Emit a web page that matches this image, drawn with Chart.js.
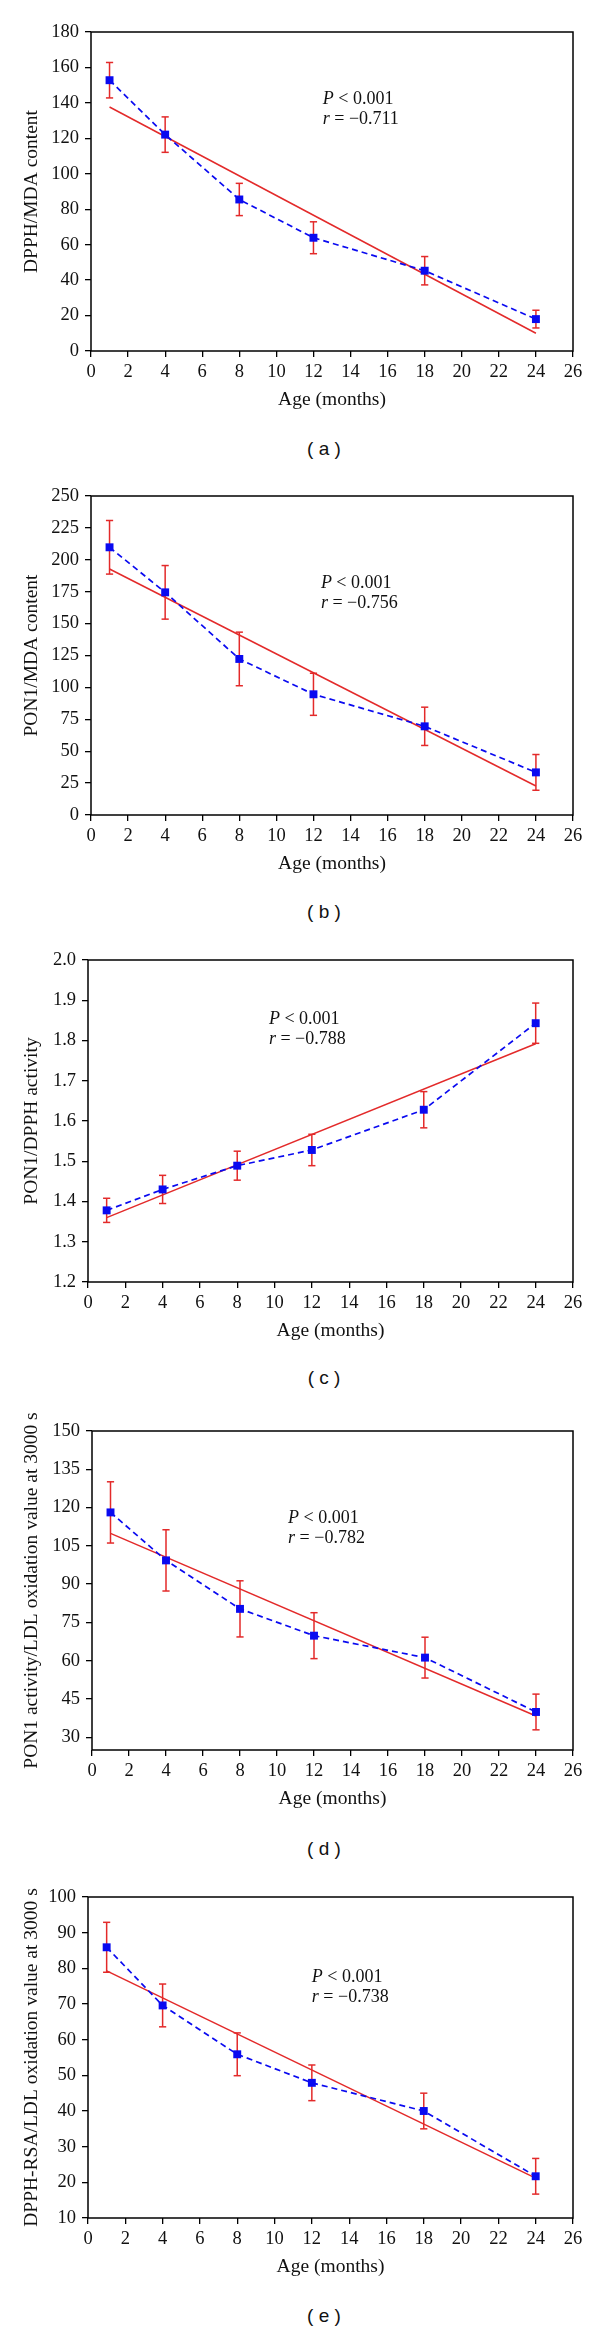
<!DOCTYPE html>
<html>
<head>
<meta charset="utf-8">
<script src="https://cdn.jsdelivr.net/npm/chart.js@4.4.0/dist/chart.umd.min.js"></script>
<style>
html,body{margin:0;padding:0;background:#fff;}
body{width:600px;height:2333px;position:relative;overflow:hidden;}
canvas{position:absolute;left:0;}
.lab{position:absolute;left:264px;width:120px;text-align:center;font-family:"Liberation Sans",Arial,sans-serif;font-size:19px;line-height:22px;color:#111;}
</style>
</head>
<body>
<canvas id="ca" width="600" height="420" style="top:1px"></canvas>
<div class="lab" style="top:438px">( a )</div>
<canvas id="cb" width="600" height="420" style="top:465px"></canvas>
<div class="lab" style="top:901px">( b )</div>
<canvas id="cc" width="600" height="423" style="top:929px"></canvas>
<div class="lab" style="top:1367px">( c )</div>
<canvas id="cd" width="600" height="420" style="top:1400px"></canvas>
<div class="lab" style="top:1838px">( d )</div>
<canvas id="ce" width="600" height="422" style="top:1866px"></canvas>
<div class="lab" style="top:2305px">( e )</div>
<script>
// ---------- data ----------
const ages = [1, 4, 8, 12, 18, 24];
const fitAges = [1, 24];
const xTicks = [0, 2, 4, 6, 8, 10, 12, 14, 16, 18, 20, 22, 24, 26];
const xTitle = 'Age (months)';

// (a) DPPH/MDA content
const aMean = [152.8, 122.1, 85.5, 63.9, 45.3, 18.0];
const aErr = [10.0, 10.0, 9.1, 9.0, 8.0, 5.0];
const aFit = [137.7, 10.0];
const aTicks = [0, 20, 40, 60, 80, 100, 120, 140, 160, 180];

// (b) PON1/MDA content
const bMean = [209.8, 174.5, 122.3, 94.6, 69.5, 33.4];
const bErr = [21.0, 21.0, 21.0, 16.5, 15.0, 14.0];
const bFit = [192.8, 22.7];
const bTicks = [0, 25, 50, 75, 100, 125, 150, 175, 200, 225, 250];

// (c) PON1/DPPH activity
const cMean = [1.378, 1.430, 1.489, 1.528, 1.628, 1.843];
const cErr = [0.030, 0.035, 0.036, 0.039, 0.045, 0.050];
const cFit = [1.360, 1.792];
const cTicks = [1.2, 1.3, 1.4, 1.5, 1.6, 1.7, 1.8, 1.9, 2.0];

// (d) PON1 activity/LDL oxidation value at 3000 s
const dMean = [118.1, 99.3, 80.3, 69.8, 61.2, 39.9];
const dErr = [12.0, 12.0, 11.0, 9.0, 8.0, 7.0];
const dFit = [109.9, 38.3];
const dTicks = [30, 45, 60, 75, 90, 105, 120, 135, 150];

// (e) DPPH-RSA/LDL oxidation value at 3000 s
const eMean = [85.9, 69.6, 55.9, 47.9, 40.0, 21.7];
const eErr = [7.0, 6.0, 6.0, 5.0, 5.0, 5.0];
const eFit = [79.3, 21.2];
const eTicks = [10, 20, 30, 40, 50, 60, 70, 80, 90, 100];

const yTitles = ['DPPH/MDA content', 'PON1/MDA content', 'PON1/DPPH activity',
  'PON1 activity/LDL oxidation value at 3000 s', 'DPPH-RSA/LDL oxidation value at 3000 s'];
const pTexts = [' < 0.001', ' < 0.001', ' < 0.001', ' < 0.001', ' < 0.001'];
const rTexts = [' = \u22120.711', ' = \u22120.756', ' = \u22120.788', ' = \u22120.782', ' = \u22120.738'];

// ---------- styling / layout ----------
const BLUE = '#0a0af0';
const RED = '#e32a2a';
const INK = '#111111';
const SERIF = '"Liberation Serif", "Times New Roman", serif';
const TICKFONT = {family: SERIF, size: 18.5};
const TITLEFONT = {family: SERIF, size: 19.5};

const panels = [
  {id: 'ca', mean: aMean, err: aErr, fit: aFit, ticks: aTicks, yMin: 0, yMax: 180, left: 91, dec: 0, title: yTitles[0], p: pTexts[0], r: rTexts[0], nx: 12.5, ny: 142},
  {id: 'cb', mean: bMean, err: bErr, fit: bFit, ticks: bTicks, yMin: 0, yMax: 250, left: 91, dec: 0, title: yTitles[1], p: pTexts[1], r: rTexts[1], nx: 12.4, ny: 182},
  {id: 'cc', mean: cMean, err: cErr, fit: cFit, ticks: cTicks, yMin: 1.2, yMax: 2.0, left: 88, dec: 1, title: yTitles[2], p: pTexts[2], r: rTexts[2], nx: 9.7, ny: 1.853},
  {id: 'cd', mean: dMean, err: dErr, fit: dFit, ticks: dTicks, yMin: 25, yMax: 150, left: 92, dec: 0, title: yTitles[3], p: pTexts[3], r: rTexts[3], nx: 10.6, ny: 115.8},
  {id: 'ce', mean: eMean, err: eErr, fit: eFit, ticks: eTicks, yMin: 10, yMax: 100, left: 88, dec: 0, title: yTitles[4], p: pTexts[4], r: rTexts[4], nx: 12.0, ny: 77.4}
];
const panelById = {};
panels.forEach(p => { panelById[p.id] = p; });

const framePlugin = {
  id: 'frame',
  afterDatasetsDraw(chart) {
    const a = chart.chartArea, ctx = chart.ctx;
    ctx.save();
    ctx.strokeStyle = '#000';
    ctx.lineWidth = 1.5;
    ctx.strokeRect(a.left, a.top, a.right - a.left, a.bottom - a.top);
    ctx.restore();
  }
};

const notePlugin = {
  id: 'statnote',
  afterDraw(chart) {
    const p = panelById[chart.canvas.id];
    const ctx = chart.ctx;
    const px = chart.scales.x.getPixelForValue(p.nx);
    const py = chart.scales.y.getPixelForValue(p.ny);
    ctx.save();
    ctx.fillStyle = INK;
    ctx.textBaseline = 'middle';
    ctx.textAlign = 'left';
    ctx.font = 'italic 18px ' + SERIF;
    ctx.fillText('P', px, py);
    let w = ctx.measureText('P').width;
    ctx.font = '18px ' + SERIF;
    ctx.fillText(p.p, px + w, py);
    ctx.font = 'italic 18px ' + SERIF;
    ctx.fillText('r', px, py + 20);
    w = ctx.measureText('r').width;
    ctx.font = '18px ' + SERIF;
    ctx.fillText(p.r, px + w, py + 20);
    ctx.restore();
  }
};

function makeChart(p) {
  const errData = [];
  ages.forEach((a, i) => {
    errData.push({x: a, y: p.mean[i] - p.err[i]}, {x: a, y: p.mean[i] + p.err[i]}, {x: a, y: null});
  });
  const axisGrid = {drawOnChartArea: false, drawTicks: true, tickLength: 6, color: '#000', lineWidth: 1.3};
  new Chart(document.getElementById(p.id), {
    type: 'line',
    data: {
      datasets: [
        {data: ages.map((a, i) => ({x: a, y: p.mean[i]})), borderColor: BLUE, borderWidth: 1.7,
         borderDash: [6, 4], pointStyle: 'rect', pointRadius: 5.6, pointBackgroundColor: BLUE,
         pointBorderWidth: 0, tension: 0},
        {data: errData, borderColor: RED, borderWidth: 1.5, pointStyle: 'line', pointRadius: 3.6,
         pointBorderColor: RED, pointBorderWidth: 1.5, spanGaps: false, tension: 0},
        {data: fitAges.map((a, i) => ({x: a, y: p.fit[i]})), borderColor: RED, borderWidth: 1.5,
         pointRadius: 0, tension: 0}
      ]
    },
    options: {
      responsive: false, animation: false, events: [], devicePixelRatio: 1,
      layout: {padding: {top: 31, right: 27, left: 0, bottom: 0}},
      plugins: {legend: {display: false}, tooltip: {enabled: false}},
      scales: {
        x: {type: 'linear', min: 0, max: 26,
          afterBuildTicks: s => { s.ticks = xTicks.map(v => ({value: v})); },
          afterFit: s => { s.height = 70; },
          ticks: {autoSkip: false, maxRotation: 0, padding: 4, color: INK, font: TICKFONT},
          grid: axisGrid, border: {display: false},
          title: {display: true, text: xTitle, color: INK, font: TITLEFONT, padding: {top: 0, bottom: 9}}},
        y: {type: 'linear', min: p.yMin, max: p.yMax,
          afterBuildTicks: s => { s.ticks = p.ticks.map(v => ({value: v})); },
          afterFit: s => { s.width = p.left; },
          ticks: {padding: 6, color: INK, font: TICKFONT, callback: v => p.dec ? Number(v).toFixed(p.dec) : String(v)},
          grid: axisGrid, border: {display: false},
          title: {display: true, text: p.title, color: INK, font: TITLEFONT, padding: {top: 20, bottom: 0}}}
      }
    },
    plugins: [framePlugin, notePlugin]
  });
}

panels.forEach(makeChart);
</script>
</body>
</html>
